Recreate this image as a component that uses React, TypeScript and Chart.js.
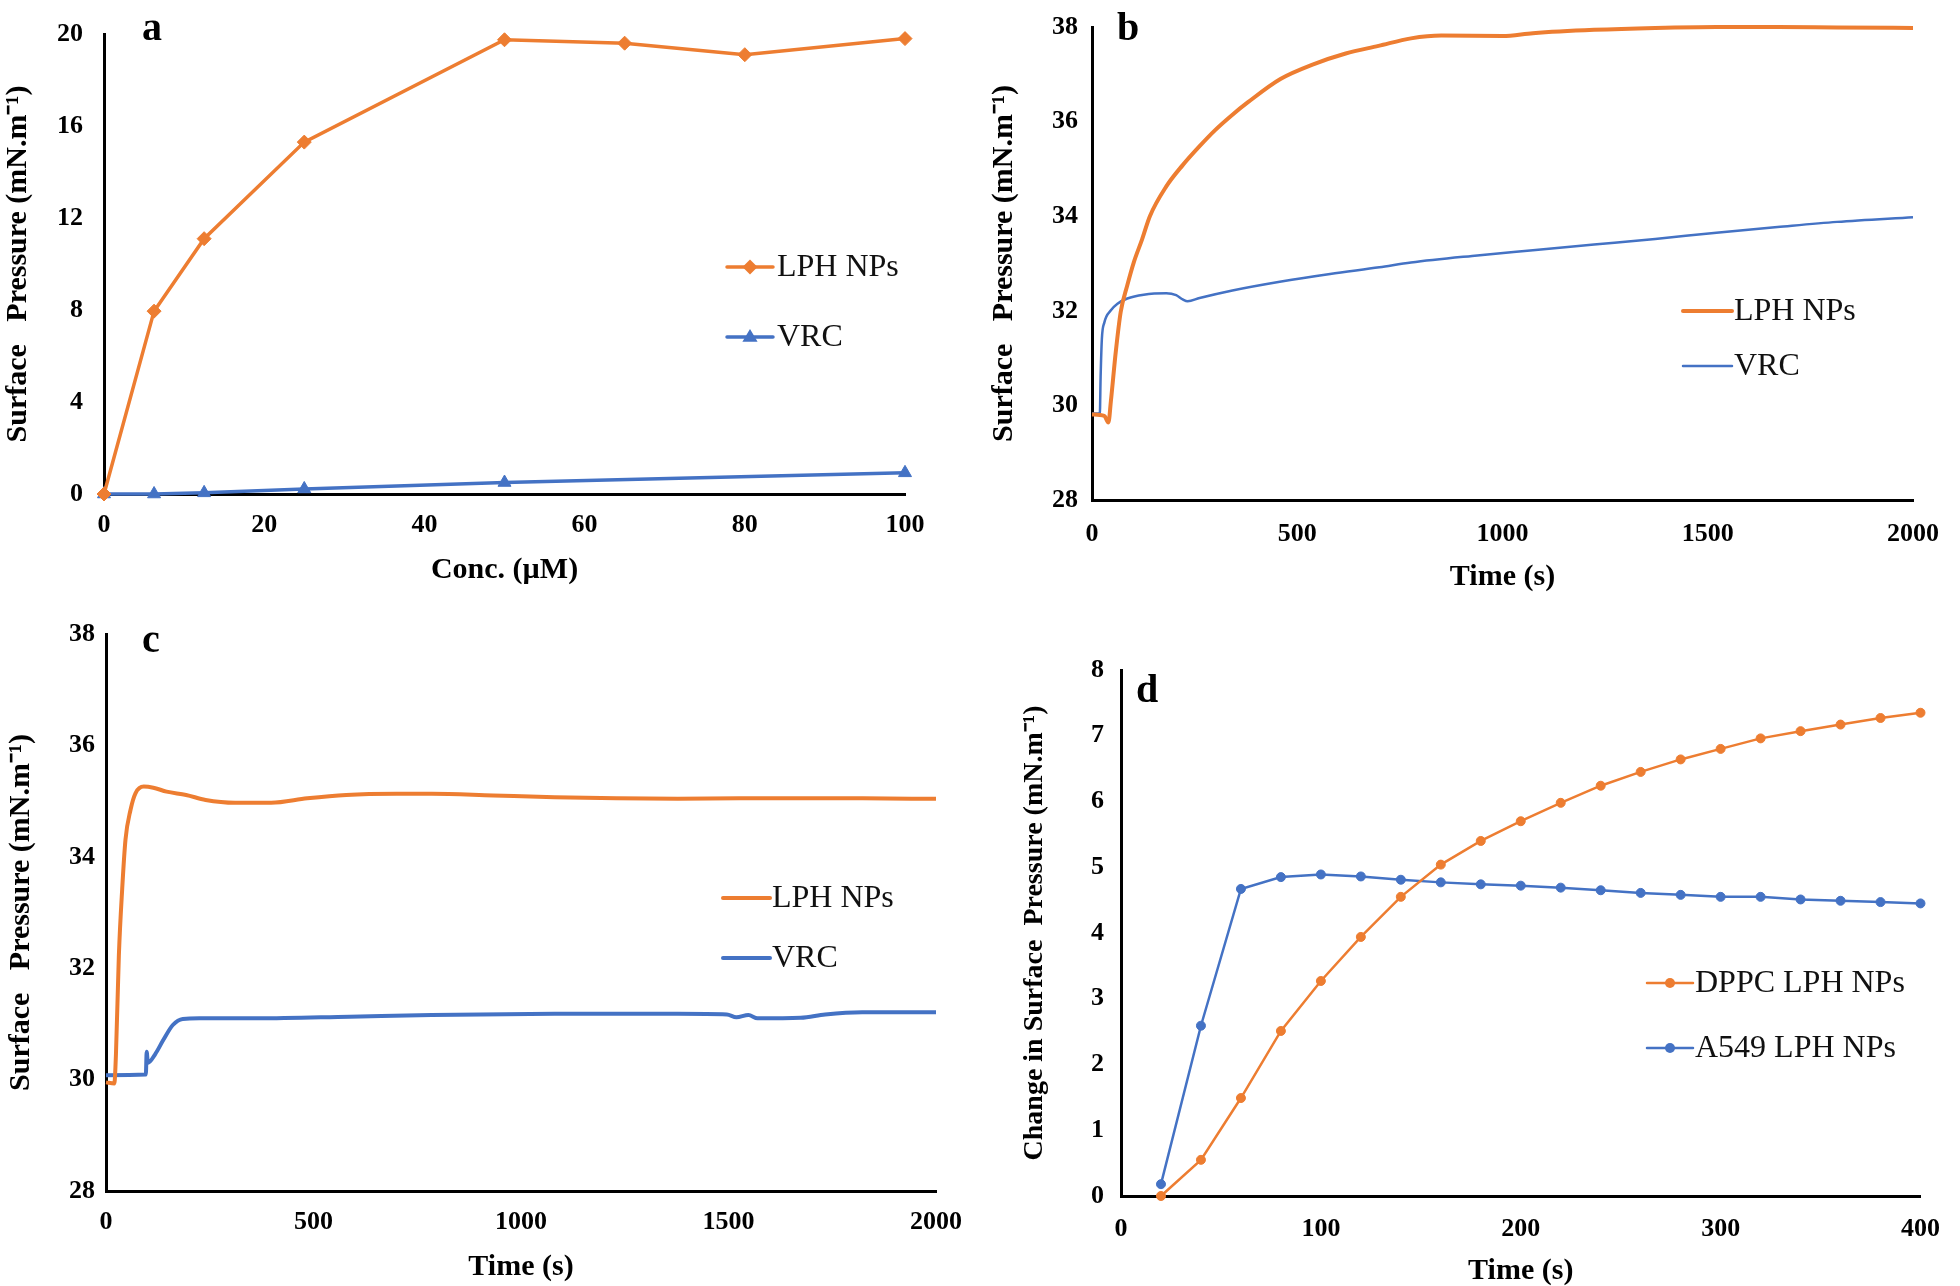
import React, { useEffect, useRef } from 'react';
import { Chart, registerables } from 'chart.js';
Chart.register(...registerables);

const ORANGE = '#ED7D31';
const BLUE = '#4472C4';
const FONT = "'Liberation Serif', 'Times New Roman', serif";

// ---------- Panel a ----------
const concA = [0, 6.25, 12.5, 25, 50, 65, 80, 100];
const lphA = [0, 7.95, 11.1, 15.3, 19.75, 19.6, 19.1, 19.8];
const concVrcA = [0, 6.25, 12.5, 25, 50, 100];
const vrcA = [0, 0, 0.05, 0.22, 0.5, 0.92];

// ---------- Panel b ----------
const timeLphB = [0, 30, 40, 46, 58, 70, 86, 102, 122, 141, 181, 221, 261, 300, 340, 380, 459, 539, 618, 698, 777, 851, 1000, 1074, 1223, 1372, 1521, 1670, 1815, 2000];
const lphB = [29.81, 29.78, 29.64, 30.09, 31.14, 31.98, 32.54, 33.03, 33.51, 34.0, 34.63, 35.08, 35.47, 35.82, 36.13, 36.41, 36.9, 37.21, 37.44, 37.6, 37.76, 37.82, 37.81, 37.87, 37.94, 37.98, 38.0, 38.0, 37.99, 37.98];
const timeVrcB = [0, 16, 19, 21, 24, 30, 46, 62, 86, 126, 181, 205, 221, 233, 262, 342, 461, 580, 700, 777, 926, 1074, 1223, 1372, 1521, 1670, 1815, 2000];
const vrcB = [29.83, 29.83, 29.8, 30.6, 31.4, 31.75, 32.01, 32.15, 32.26, 32.34, 32.37, 32.33, 32.24, 32.2, 32.27, 32.43, 32.62, 32.78, 32.92, 33.02, 33.16, 33.28, 33.4, 33.52, 33.65, 33.77, 33.88, 33.98];

// ---------- Panel c ----------
const timeLphC = [0, 20, 24, 31, 39, 47, 59, 71, 91, 114, 146, 193, 240, 311, 398, 485, 579, 700, 785, 933, 1081, 1230, 1378, 1526, 1674, 1822, 2000];
const lphC = [29.95, 29.93, 30.46, 32.23, 33.42, 34.31, 34.84, 35.14, 35.26, 35.24, 35.17, 35.11, 35.02, 34.97, 34.97, 35.05, 35.11, 35.13, 35.13, 35.1, 35.07, 35.05, 35.04, 35.05, 35.05, 35.05, 35.04];
const timeVrcC = [0, 96, 98, 101, 118, 138, 161, 185, 225, 366, 587, 785, 1081, 1378, 1496, 1519, 1548, 1570, 1674, 1733, 1822, 2000];
const vrcC = [30.08, 30.09, 30.5, 30.3, 30.45, 30.71, 30.98, 31.09, 31.1, 31.1, 31.13, 31.16, 31.18, 31.18, 31.17, 31.12, 31.16, 31.1, 31.11, 31.17, 31.21, 31.21];

// ---------- Panel d ----------
const timeD = [20, 40, 60, 80, 100, 120, 140, 160, 180, 200, 220, 240, 260, 280, 300, 320, 340, 360, 380, 400];
const dppcD = [0.0, 0.55, 1.49, 2.51, 3.27, 3.94, 4.55, 5.04, 5.4, 5.7, 5.98, 6.24, 6.45, 6.64, 6.8, 6.96, 7.07, 7.17, 7.27, 7.35];
const a549D = [0.18, 2.59, 4.67, 4.85, 4.89, 4.86, 4.81, 4.77, 4.74, 4.72, 4.69, 4.65, 4.61, 4.58, 4.55, 4.55, 4.51, 4.49, 4.47, 4.45];

const pts = (xs: number[], ys: number[]) => xs.map((x, i) => ({ x, y: ys[i] }));

type Box = { left: number; top: number; w: number; h: number };
type Area = { left: number; top: number; right: number; bottom: number };
type PanelCfg = {
  key: string;
  letter: string;
  letterPos: [number, number];
  box: Box;
  area: Area;
  x: { min: number; max: number; step: number; title: string; tickPad: number; titlePad: number };
  y: { min: number; max: number; step: number; title: string; tickPad: number; titlePad: number; titleSize: number };
  legend: { x0: number; x1: number; rows: number[]; textX: number };
  datasets: any[];
};

function lineDs(label: string, data: any[], color: string, width: number, pointStyle: any, radius: number, smooth: boolean) {
  return {
    label,
    data,
    borderColor: color,
    backgroundColor: color,
    borderWidth: width,
    pointStyle,
    pointRadius: radius,
    pointBackgroundColor: color,
    pointBorderColor: color,
    pointBorderWidth: 1,
    tension: smooth ? 0.4 : 0,
    cubicInterpolationMode: smooth ? 'monotone' : 'default',
    clip: false,
    fill: false,
  };
}

const panels: PanelCfg[] = [
  {
    key: 'a',
    letter: 'a',
    letterPos: [142, 40],
    box: { left: 0, top: 0, w: 980, h: 610 },
    area: { left: 104, top: 27, right: 905, bottom: 494 },
    x: { min: 0, max: 100, step: 20, title: 'Conc. (\u00B5M)', tickPad: 18, titlePad: 25 },
    y: { min: 0, max: 20, step: 4, title: 'Surface   Pressure (mN.m\u207B\u00B9)', tickPad: 21, titlePad: 3, titleSize: 30 },
    legend: { x0: 727, x1: 773, rows: [267, 337], textX: 777 },
    datasets: [
      lineDs('LPH NPs', pts(concA, lphA), ORANGE, 3.5, 'rectRot', 7, false),
      lineDs('VRC', pts(concVrcA, vrcA), BLUE, 3.5, 'triangle', 7.5, false),
    ],
  },
  {
    key: 'b',
    letter: 'b',
    letterPos: [1117, 40],
    box: { left: 980, top: 0, w: 980, h: 610 },
    area: { left: 1092, top: 22, right: 1931, bottom: 500 },
    x: { min: 0, max: 2000, step: 500, title: 'Time (s)', tickPad: 21, titlePad: 18 },
    y: { min: 28, max: 38, step: 2, title: 'Surface   Pressure (mN.m\u207B\u00B9)', tickPad: 14, titlePad: 9, titleSize: 30 },
    legend: { x0: 1683, x1: 1732, rows: [311, 366], textX: 1734 },
    datasets: [
      lineDs('LPH NPs', pts(timeLphB, lphB), ORANGE, 4, 'circle', 0, true),
      lineDs('VRC', pts(timeVrcB, vrcB), BLUE, 2.5, 'circle', 0, true),
    ],
  },
  {
    key: 'c',
    letter: 'c',
    letterPos: [142, 652],
    box: { left: 0, top: 610, w: 980, h: 676 },
    area: { left: 106, top: 629, right: 952, bottom: 1191 },
    x: { min: 0, max: 2000, step: 500, title: 'Time (s)', tickPad: 18, titlePad: 4 },
    y: { min: 28, max: 38, step: 2, title: 'Surface   Pressure (mN.m\u207B\u00B9)', tickPad: 11, titlePad: 6, titleSize: 30 },
    legend: { x0: 723, x1: 770, rows: [898, 958], textX: 772 },
    datasets: [
      lineDs('LPH NPs', pts(timeLphC, lphC), ORANGE, 4, 'circle', 0, true),
      lineDs('VRC', pts(timeVrcC, vrcC), BLUE, 4, 'circle', 0, true),
    ],
  },
  {
    key: 'd',
    letter: 'd',
    letterPos: [1136, 702],
    box: { left: 980, top: 610, w: 980, h: 676 },
    area: { left: 1121, top: 670, right: 1925, bottom: 1196 },
    x: { min: 0, max: 400, step: 100, title: 'Time (s)', tickPad: 20, titlePad: 0 },
    y: { min: 0, max: 8, step: 1, title: 'Change in Surface  Pressure (mN.m\u207B\u00B9)', tickPad: 17, titlePad: 41, titleSize: 28 },
    legend: { x0: 1647, x1: 1693, rows: [983, 1048], textX: 1695 },
    datasets: [
      lineDs('DPPC LPH NPs', pts(timeD, dppcD), ORANGE, 2.5, 'circle', 4.5, false),
      lineDs('A549 LPH NPs', pts(timeD, a549D), BLUE, 2.5, 'circle', 4.5, false),
    ],
  },
];

function drawMarker(ctx: CanvasRenderingContext2D, style: string, x: number, y: number, r: number, color: string) {
  ctx.fillStyle = color;
  ctx.beginPath();
  if (style === 'rectRot') {
    ctx.moveTo(x, y - r);
    ctx.lineTo(x + r, y);
    ctx.lineTo(x, y + r);
    ctx.lineTo(x - r, y);
  } else if (style === 'triangle') {
    ctx.moveTo(x, y - r);
    ctx.lineTo(x + r * 0.95, y + r * 0.6);
    ctx.lineTo(x - r * 0.95, y + r * 0.6);
  } else {
    ctx.arc(x, y, r, 0, Math.PI * 2);
  }
  ctx.closePath();
  ctx.fill();
}

function makeOverlay(cfg: PanelCfg) {
  return {
    id: 'overlay_' + cfg.key,
    afterDraw(chart: any) {
      const ctx: CanvasRenderingContext2D = chart.ctx;
      const ox = cfg.box.left;
      const oy = cfg.box.top;
      ctx.save();
      ctx.font = `bold 40px ${FONT}`;
      ctx.fillStyle = '#000';
      ctx.textAlign = 'left';
      ctx.textBaseline = 'alphabetic';
      ctx.fillText(cfg.letter, cfg.letterPos[0] - ox, cfg.letterPos[1] - oy);
      chart.data.datasets.forEach((ds: any, i: number) => {
        const y = cfg.legend.rows[i] - oy;
        const x0 = cfg.legend.x0 - ox;
        const x1 = cfg.legend.x1 - ox;
        ctx.strokeStyle = ds.borderColor;
        ctx.lineWidth = ds.borderWidth;
        ctx.lineCap = 'round';
        ctx.beginPath();
        ctx.moveTo(x0, y);
        ctx.lineTo(x1, y);
        ctx.stroke();
        if (ds.pointRadius > 0) drawMarker(ctx, ds.pointStyle, (x0 + x1) / 2, y, ds.pointRadius + 0.5, ds.borderColor);
        ctx.font = `32px ${FONT}`;
        ctx.fillStyle = '#111';
        ctx.textBaseline = 'middle';
        ctx.fillText(ds.label, cfg.legend.textX - ox, y + 1);
      });
      ctx.restore();
    },
  };
}

function Panel({ cfg }: { cfg: PanelCfg }) {
  const ref = useRef<HTMLCanvasElement>(null);
  useEffect(() => {
    if (!ref.current) return;
    const { box, area } = cfg;
    const tickFont = { family: FONT, size: 26, weight: 'bold' as const, lineHeight: 1 };
    const xTitleFont = { family: FONT, size: 30, weight: 'bold' as const, lineHeight: 1 };
    const yTitleFont = { family: FONT, size: cfg.y.titleSize, weight: 'bold' as const, lineHeight: 1 };
    const chart = new Chart(ref.current, {
      type: 'line',
      data: { datasets: cfg.datasets },
      options: {
        animation: false,
        responsive: false,
        maintainAspectRatio: false,
        layout: {
          padding: {
            left: 0,
            top: area.top - box.top,
            right: box.left + box.w - area.right,
            bottom: 0,
          },
        },
        plugins: { legend: { display: false }, tooltip: { enabled: false } },
        scales: {
          x: {
            type: 'linear',
            min: cfg.x.min,
            max: cfg.x.max,
            ticks: {
              stepSize: cfg.x.step,
              padding: cfg.x.tickPad,
              font: tickFont,
              color: '#000',
              maxRotation: 0,
              callback: (v: any) => String(v),
            },
            grid: { display: false, drawTicks: false },
            border: { display: true, color: '#000', width: 3 },
            title: {
              display: true,
              text: cfg.x.title,
              font: xTitleFont,
              color: '#000',
              padding: { top: 0, bottom: cfg.x.titlePad },
            },
            afterFit: (s: any) => {
              s.height = box.top + box.h - area.bottom;
            },
          },
          y: {
            type: 'linear',
            min: cfg.y.min,
            max: cfg.y.max,
            ticks: {
              stepSize: cfg.y.step,
              padding: cfg.y.tickPad,
              font: tickFont,
              color: '#000',
              callback: (v: any) => String(v),
            },
            grid: { display: false, drawTicks: false },
            border: { display: true, color: '#000', width: 3 },
            title: {
              display: true,
              text: cfg.y.title,
              font: yTitleFont,
              color: '#000',
              padding: { top: cfg.y.titlePad, bottom: 0 },
            },
            afterFit: (s: any) => {
              s.width = area.left - box.left;
            },
          },
        },
      } as any,
      plugins: [makeOverlay(cfg)],
    });
    return () => chart.destroy();
  }, [cfg]);
  return (
    <canvas
      ref={ref}
      width={cfg.box.w}
      height={cfg.box.h}
      style={{ position: 'absolute', left: cfg.box.left, top: cfg.box.top, width: cfg.box.w, height: cfg.box.h }}
    />
  );
}

export default function App() {
  return (
    <div style={{ position: 'absolute', left: 0, top: 0, width: 1960, height: 1286, background: '#fff', overflow: 'hidden' }}>
      {panels.map((p) => (
        <Panel key={p.key} cfg={p} />
      ))}
    </div>
  );
}
